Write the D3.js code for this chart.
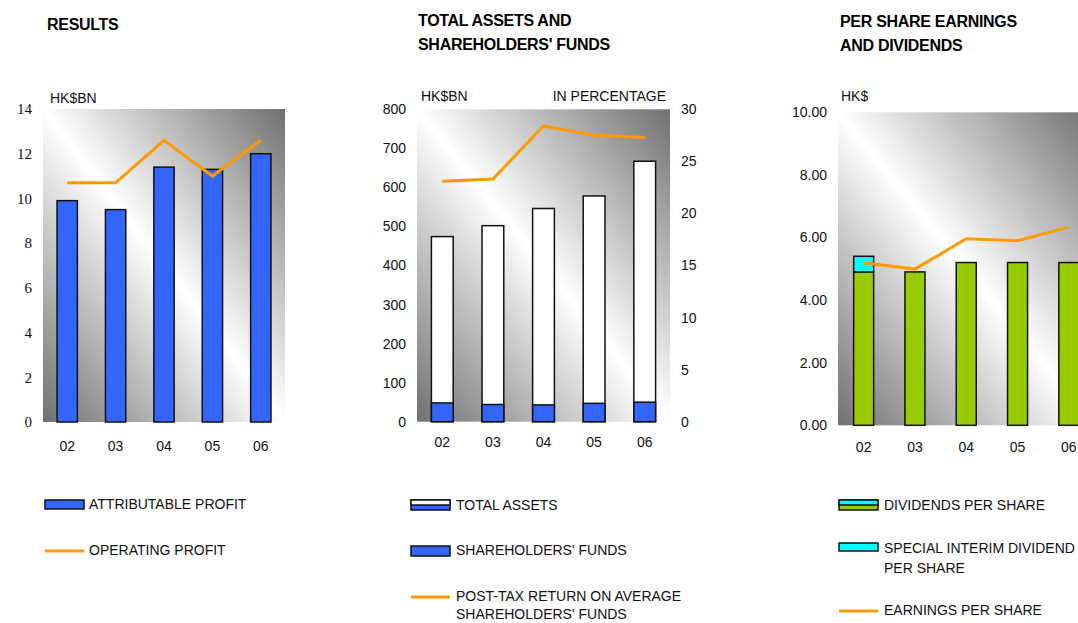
<!DOCTYPE html>
<head>
  <meta charset="utf-8">
  <script src="https://d3js.org/d3.v7.min.js"></script>
  <style>
  body,html {margin:0;background:#fff;font-family:"Liberation Sans",Arial,sans-serif;}
  .title {font-size:16px;font-weight:bold;fill:#000;letter-spacing:-0.3px;}
  .unit, .leg {font-size:14px;fill:#111;}
  .tick text {font-size:14px;fill:#111;font-family:"Liberation Sans",Arial,sans-serif;}
  .serif .tick text {font-family:"Liberation Serif","Times New Roman",serif;font-size:15px;}
</style>
</head>

<body>
  <script>

    // DATA
    const years = ["02", "03", "04", "05", "06"];
    const attributableProfit = [9.9, 9.5, 11.4, 11.3, 12.0];
    const operatingProfit = [10.7, 10.7, 12.6, 11.0, 12.6];
    const totalAssets = [474, 502, 546, 578, 667];
    const shareholdersFunds = [48, 44, 43, 47, 50];
    const returnOnFunds = [23.1, 23.3, 28.4, 27.5, 27.3];
    const dividendsPerShare = [4.90, 4.90, 5.20, 5.20, 5.20];
    const specialDividend = [0.50, 0, 0, 0, 0];
    const earningsPerShare = [5.19, 4.99, 5.96, 5.90, 6.33];
    const ticks1 = [0, 2, 4, 6, 8, 10, 12, 14];
    const ticks2L = [0, 100, 200, 300, 400, 500, 600, 700, 800];
    const ticks2R = [0, 5, 10, 15, 20, 25, 30];
    const ticks3 = [0, 2, 4, 6, 8, 10];

    const BLUE = "#3366ff", ORANGE = "#ff9900", GREEN = "#99cc00", CYAN = "#00ffff";

    const svg = d3.select("body").append("svg")
      .attr("width", 1078)
      .attr("height", 623);

    const grad = svg.append("defs").append("linearGradient")
      .attr("id", "bg")
      .attr("x1", 0).attr("y1", 1).attr("x2", 1).attr("y2", 0);
    grad.append("stop").attr("offset", "0%").attr("stop-color", "#707070");
    grad.append("stop").attr("offset", "50%").attr("stop-color", "#ffffff");
    grad.append("stop").attr("offset", "100%").attr("stop-color", "#707070");

    function plotBg(x0, x1, y0, y1) {
      svg.append("rect")
        .attr("x", x0).attr("y", y1)
        .attr("width", x1 - x0).attr("height", y0 - y1)
        .attr("fill", "url(#bg)");
    }

    function xAxis(x, yPos, pad) {
      const g = svg.append("g")
        .attr("transform", `translate(0,${yPos})`)
        .call(d3.axisBottom(x).tickSize(0).tickPadding(pad));
      g.select(".domain").remove();
      return g;
    }

    function yAxis(y, xPos, ticks, fmt, right, cls) {
      const ax = right ? d3.axisRight(y) : d3.axisLeft(y);
      const g = svg.append("g")
        .attr("class", cls || null)
        .attr("transform", `translate(${xPos},0)`)
        .call(ax.tickValues(ticks).tickFormat(fmt).tickSize(0).tickPadding(11));
      g.select(".domain").remove();
      return g;
    }

    function bars(x, y, values, color, base) {
      svg.append("g").selectAll("rect")
        .data(values)
        .enter()
        .append("rect")
        .attr("x", (d, i) => x(years[i]))
        .attr("width", x.bandwidth())
        .attr("y", (d, i) => y((base ? base[i] : 0) + d))
        .attr("height", (d, i) => d ? y(base ? base[i] : 0) - y((base ? base[i] : 0) + d) : 0)
        .attr("fill", color)
        .attr("stroke", "#111")
        .attr("stroke-width", 1.5)
        .style("display", d => d ? null : "none");
    }

    function line(x, y, values) {
      svg.append("path")
        .datum(values)
        .attr("fill", "none")
        .attr("stroke", ORANGE)
        .attr("stroke-width", 3)
        .attr("d", d3.line()
          .x((d, i) => x(years[i]) + x.bandwidth() / 2)
          .y(d => y(d)));
    }

    function text(x, y, s, cls, anchor) {
      svg.append("text")
        .attr("class", cls)
        .attr("x", x).attr("y", y)
        .attr("dy", "0.35em")
        .attr("text-anchor", anchor || "start")
        .text(s);
    }

    function legendBar(x, y, h, top, bottom) {
      const g = svg.append("g");
      g.append("rect").attr("x", x).attr("y", y).attr("width", 39).attr("height", h)
        .attr("fill", bottom || top).attr("stroke", "#111").attr("stroke-width", 1.5);
      if (bottom) {
        g.append("rect").attr("x", x).attr("y", y).attr("width", 39).attr("height", h / 2)
          .attr("fill", top).attr("stroke", "#111").attr("stroke-width", 1.5);
      }
    }

    function legendLine(x, y) {
      svg.append("line").attr("x1", x).attr("x2", x + 39).attr("y1", y).attr("y2", y)
        .attr("stroke", ORANGE).attr("stroke-width", 3);
    }

    // CHART 1: RESULTS
    const x1 = d3.scaleBand().domain(years).range([43, 285]).paddingInner(0.58).paddingOuter(0.29);
    const y1 = d3.scaleLinear().domain([0, 14]).range([422, 109]);
    plotBg(43, 285, 422, 109);
    bars(x1, y1, attributableProfit, BLUE);
    line(x1, y1, operatingProfit);
    yAxis(y1, 43, ticks1, d3.format("d"), false, "serif");
    xAxis(x1, 422, 19);
    text(47, 24, "RESULTS", "title");
    text(50, 98, "HK$BN", "unit");
    legendBar(45, 500, 9, BLUE);
    text(89, 504, "ATTRIBUTABLE PROFIT", "leg");
    legendLine(45, 551);
    text(89, 550, "OPERATING PROFIT", "leg");

    // CHART 2: TOTAL ASSETS AND SHAREHOLDERS' FUNDS
    const x2 = d3.scaleBand().domain(years).range([417, 670]).paddingInner(0.57).paddingOuter(0.285);
    const y2 = d3.scaleLinear().domain([0, 800]).range([421.7, 109.3]);
    const y2r = d3.scaleLinear().domain([0, 30]).range([421.7, 109.3]);
    plotBg(417, 670, 421.7, 109.3);
    bars(x2, y2, totalAssets, "#ffffff");
    bars(x2, y2, shareholdersFunds, BLUE);
    line(x2, y2r, returnOnFunds);
    yAxis(y2, 417, ticks2L, d3.format("d"), false);
    yAxis(y2r, 670, ticks2R, d3.format("d"), true);
    xAxis(x2, 421.7, 15);
    text(418, 20, "TOTAL ASSETS AND", "title");
    text(418, 44, "SHAREHOLDERS' FUNDS", "title");
    text(421, 96, "HK$BN", "unit");
    text(666, 96, "IN PERCENTAGE", "unit", "end");
    legendBar(411, 500, 10, "#ffffff", BLUE);
    text(456, 505, "TOTAL ASSETS", "leg");
    legendBar(411, 546, 10, BLUE);
    text(456, 550, "SHAREHOLDERS' FUNDS", "leg");
    legendLine(411, 597);
    text(456, 596, "POST-TAX RETURN ON AVERAGE", "leg");
    text(456, 614, "SHAREHOLDERS' FUNDS", "leg");

    // CHART 3: PER SHARE EARNINGS AND DIVIDENDS
    const x3 = d3.scaleBand().domain(years).range([838, 1094.5]).paddingInner(0.61).paddingOuter(0.305);
    const y3 = d3.scaleLinear().domain([0, 10]).range([425.3, 112.3]);
    plotBg(838, 1094.5, 425.3, 112.3);
    bars(x3, y3, dividendsPerShare, GREEN);
    bars(x3, y3, specialDividend, CYAN, dividendsPerShare);
    line(x3, y3, earningsPerShare);
    yAxis(y3, 838, ticks3, d3.format(".2f"), false);
    xAxis(x3, 425.3, 17);
    text(840, 21, "PER SHARE EARNINGS", "title");
    text(840, 45, "AND DIVIDENDS", "title");
    text(841, 96, "HK$", "unit");
    legendBar(839, 500, 10, CYAN, GREEN);
    text(884, 505, "DIVIDENDS PER SHARE", "leg");
    legendBar(839, 543, 8, CYAN);
    text(884, 548, "SPECIAL INTERIM DIVIDEND", "leg");
    text(884, 568, "PER SHARE", "leg");
    legendLine(839, 611);
    text(884, 610, "EARNINGS PER SHARE", "leg");

  </script>
</body>
